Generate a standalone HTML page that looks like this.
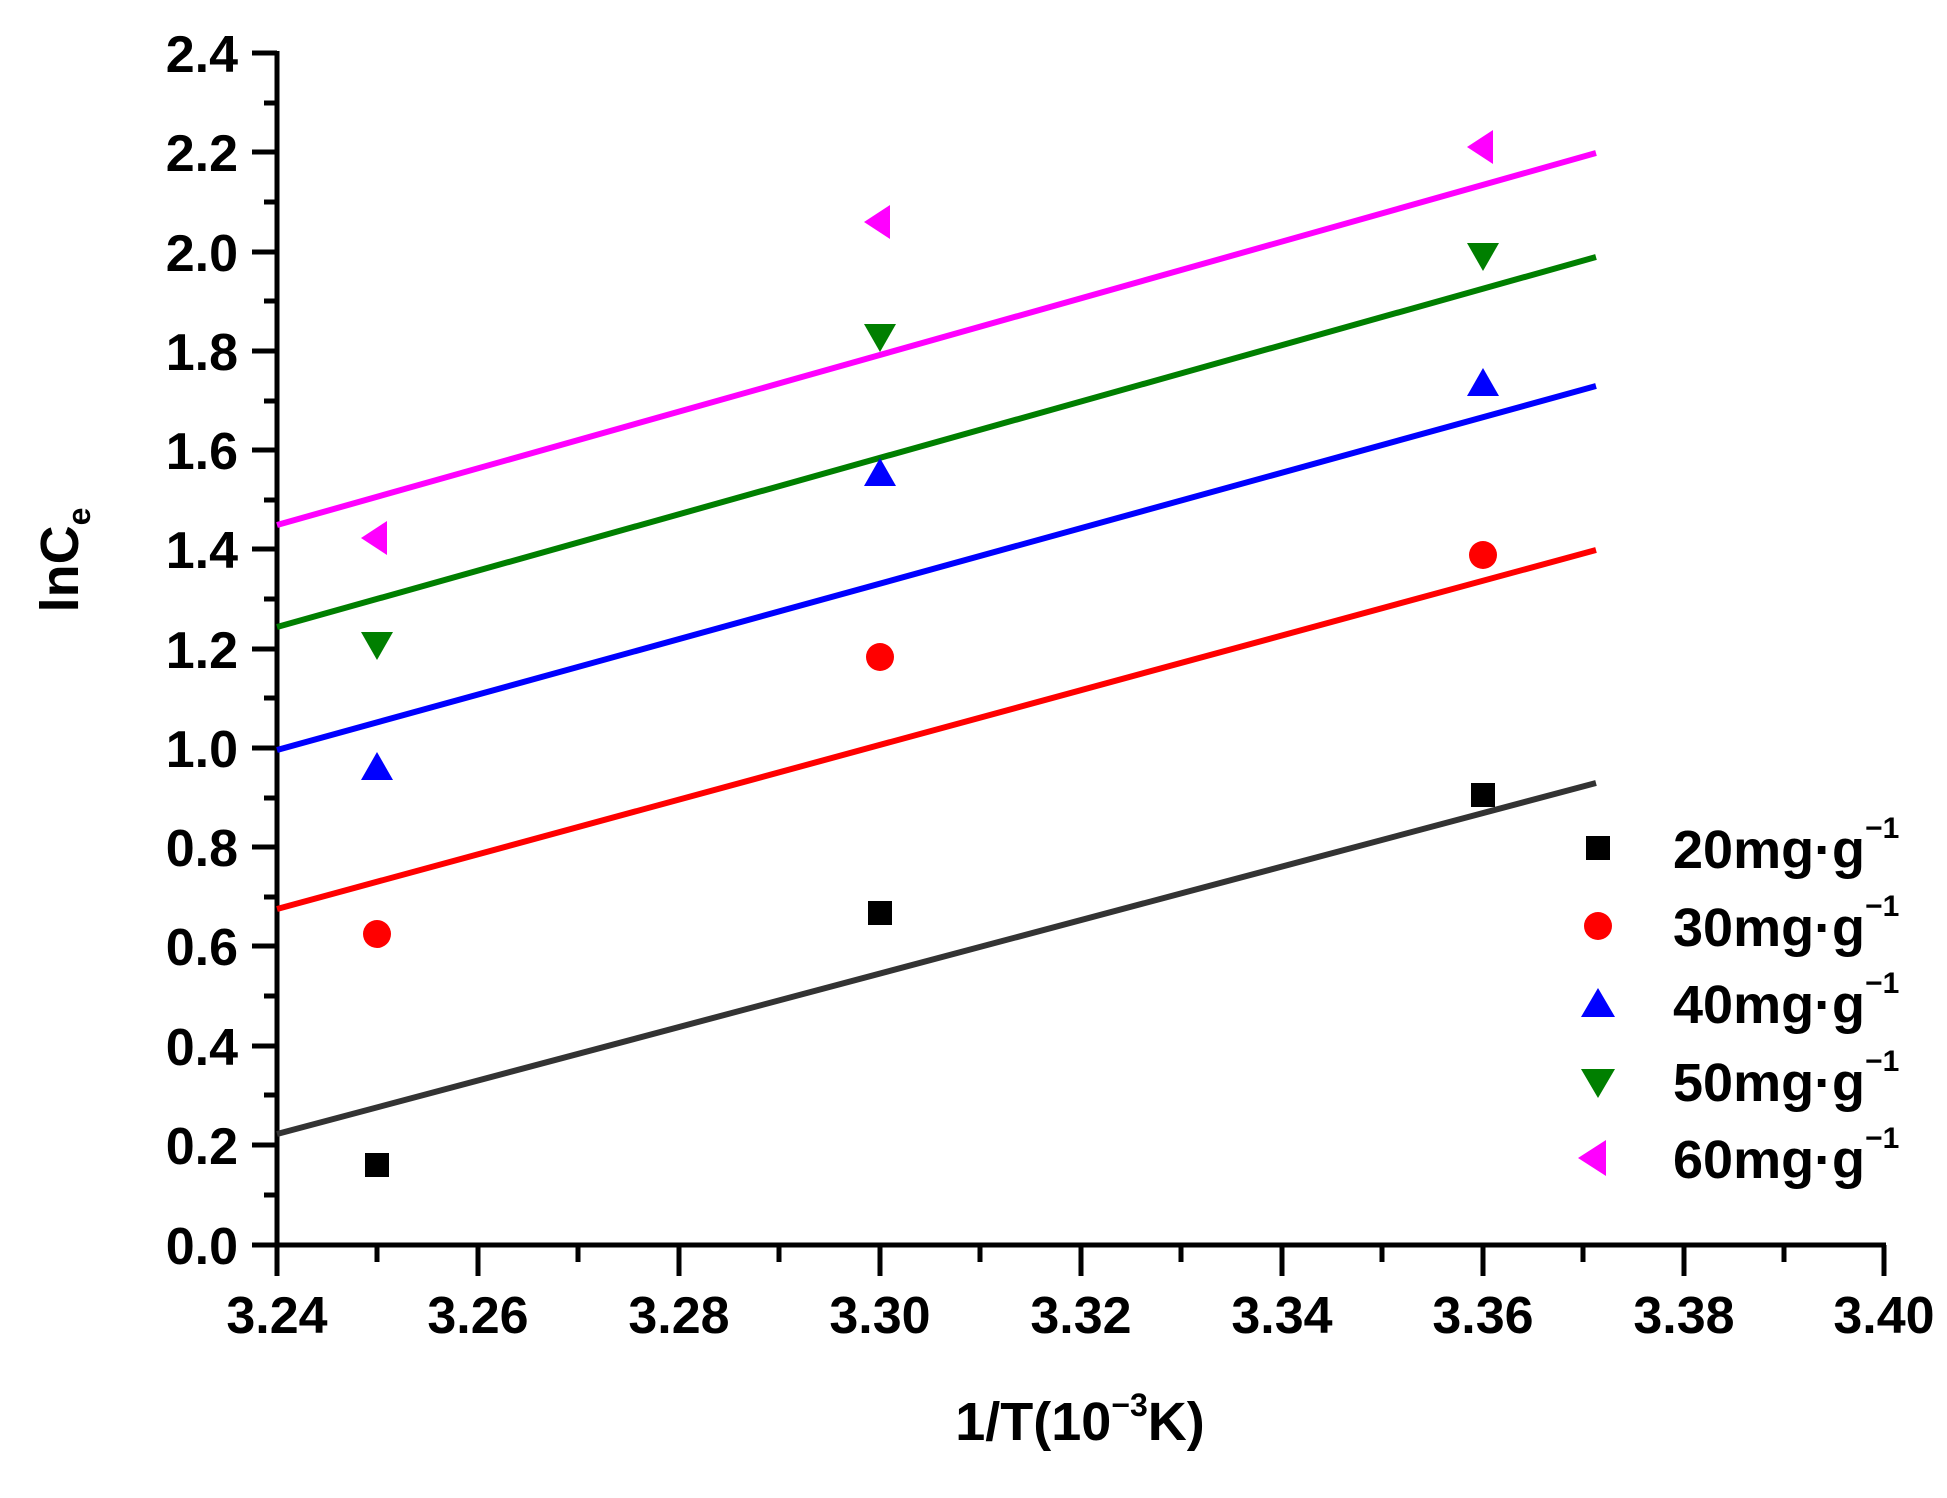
<!DOCTYPE html>
<html><head><meta charset="utf-8"><style>
html,body{margin:0;padding:0;background:#fff;}
svg{display:block;font-family:"Liberation Sans",Arial,sans-serif;font-weight:bold;}
</style></head><body>
<svg width="1947" height="1498" viewBox="0 0 1947 1498" xmlns="http://www.w3.org/2000/svg">
<g stroke="#000" stroke-width="5" fill="none">
<line x1="277" y1="51" x2="277" y2="1247"/>
<line x1="275" y1="1245" x2="1886" y2="1245"/>
<path d="M252 53H277 M252 152H277 M252 252H277 M252 351H277 M252 450H277 M252 549H277 M252 649H277 M252 748H277 M252 847H277 M252 946H277 M252 1046H277 M252 1145H277 M252 1245H277"/>
<path d="M264 103H277 M264 202H277 M264 301H277 M264 401H277 M264 500H277 M264 599H277 M264 698H277 M264 798H277 M264 897H277 M264 996H277 M264 1095H277 M264 1195H277"/>
<path d="M277 1245V1276 M478 1245V1276 M679 1245V1276 M880 1245V1276 M1081 1245V1276 M1282 1245V1276 M1483 1245V1276 M1684 1245V1276 M1884 1245V1276"/>
<path d="M377 1245V1262 M578 1245V1262 M779 1245V1262 M980 1245V1262 M1181 1245V1262 M1382 1245V1262 M1583 1245V1262 M1784 1245V1262"/>
</g>
<g font-size="52" text-anchor="end" fill="#000">
<text x="238" y="72">2.4</text><text x="238" y="171">2.2</text><text x="238" y="271">2.0</text>
<text x="238" y="370">1.8</text><text x="238" y="469">1.6</text><text x="238" y="568">1.4</text>
<text x="238" y="668">1.2</text><text x="238" y="767">1.0</text><text x="238" y="866">0.8</text>
<text x="238" y="965">0.6</text><text x="238" y="1065">0.4</text><text x="238" y="1164">0.2</text>
<text x="238" y="1264">0.0</text>
</g>
<g font-size="52" text-anchor="middle" fill="#000">
<text x="277" y="1333">3.24</text><text x="478" y="1333">3.26</text><text x="679" y="1333">3.28</text>
<text x="880" y="1333">3.30</text><text x="1081" y="1333">3.32</text><text x="1282" y="1333">3.34</text>
<text x="1483" y="1333">3.36</text><text x="1684" y="1333">3.38</text><text x="1884" y="1333">3.40</text>
</g>
<text x="1080" y="1440" font-size="54" text-anchor="middle">1/T(10<tspan font-size="32" dy="-24">−3</tspan><tspan dy="24">K)</tspan></text>
<text transform="translate(78,560) rotate(-90)" font-size="54" text-anchor="middle">lnC<tspan font-size="32" dy="12">e</tspan></text>
<g stroke-width="6">
<line x1="277" y1="1134" x2="1596" y2="783" stroke="#333"/>
<line x1="277" y1="909" x2="1596" y2="550" stroke="#ff0000"/>
<line x1="277" y1="750" x2="1596" y2="386" stroke="#0000ff"/>
<line x1="277" y1="627" x2="1596" y2="257" stroke="#007f00"/>
<line x1="277" y1="525" x2="1596" y2="153" stroke="#ff00ff"/>
</g>
<g fill="#000">
<rect x="365" y="1153" width="24" height="24"/><rect x="868" y="901" width="24" height="24"/><rect x="1471" y="783" width="24" height="24"/>
</g>
<g fill="#ff0000">
<circle cx="377" cy="934" r="14"/><circle cx="880" cy="657" r="14"/><circle cx="1483" cy="555" r="14"/>
</g>
<g fill="#0000ff">
<path d="M377 752l-16 28h32z"/><path d="M880 458l-16 28h32z"/><path d="M1483 368l-16 28h32z"/>
</g>
<g fill="#007f00">
<path d="M361 632h32l-16 28z"/><path d="M864 324h32l-16 28z"/><path d="M1467 243h32l-16 28z"/>
</g>
<g fill="#ff00ff">
<path d="M361 538l26-17v34z"/><path d="M864 222l26-17v34z"/><path d="M1467 147l26-17v34z"/>
</g>
<rect x="1586" y="836" width="24" height="24" fill="#000"/>
<circle cx="1598" cy="926" r="14" fill="#ff0000"/>
<path d="M1598 988l-17 29h34z" fill="#0000ff"/>
<path d="M1581 1069h34l-17 29z" fill="#007f00"/>
<path d="M1578 1158l28-18v36z" fill="#ff00ff"/>
<g font-size="54" fill="#000">
<text x="1673" y="868">20mg·g<tspan font-size="30" dy="-30">−1</tspan></text>
<text x="1673" y="946">30mg·g<tspan font-size="30" dy="-30">−1</tspan></text>
<text x="1673" y="1023">40mg·g<tspan font-size="30" dy="-30">−1</tspan></text>
<text x="1673" y="1101">50mg·g<tspan font-size="30" dy="-30">−1</tspan></text>
<text x="1673" y="1178">60mg·g<tspan font-size="30" dy="-30">−1</tspan></text>
</g>
</svg>
</body></html>
